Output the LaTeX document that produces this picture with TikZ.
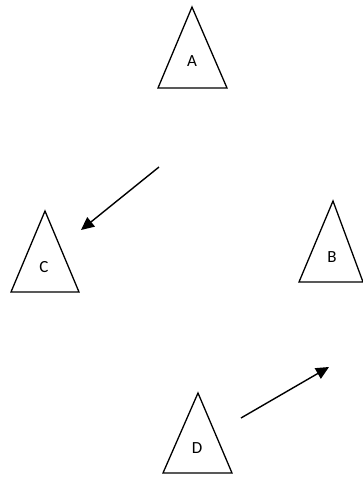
\documentclass[tikz,border=0pt]{standalone}
\usepackage{fontspec}
\setmainfont{Carlito}
\usetikzlibrary{arrows.meta}
\begin{document}
\begin{tikzpicture}[x=1pt,y=-1pt,
  tri/.style={draw=black,line width=1.3pt,line join=miter},
  lbl/.style={font=\fontsize{17}{20}\selectfont,inner sep=0pt},
  arr/.style={draw=black,line width=1.4pt,-{Triangle[length=13pt,width=12pt]}}]
\useasboundingbox (0,0) rectangle (363,480);
% triangle A
\draw[tri] (192,7) -- (227,88) -- (158,88) -- cycle;
\node[lbl] (A) at (192,61) {A};
% triangle C
\draw[tri] (45,211) -- (79,292) -- (11,292) -- cycle;
\node[lbl] (C) at (44,267) {C};
% triangle B
\draw[tri] (333,201) -- (363,282) -- (299,282) -- cycle;
\node[lbl] (B) at (332,257) {B};
% triangle D
\draw[tri] (198,393) -- (232,473) -- (163,473) -- cycle;
\node[lbl] (D) at (197,448) {D};
% arrows
\coordinate (a1s) at (159,167);
\coordinate (a1e) at (81,230);
\coordinate (a2s) at (241,418);
\coordinate (a2e) at (329,367);
\draw[arr] (a1s) -- (a1e);
\draw[arr] (a2s) -- (a2e);
\end{tikzpicture}
\end{document}
